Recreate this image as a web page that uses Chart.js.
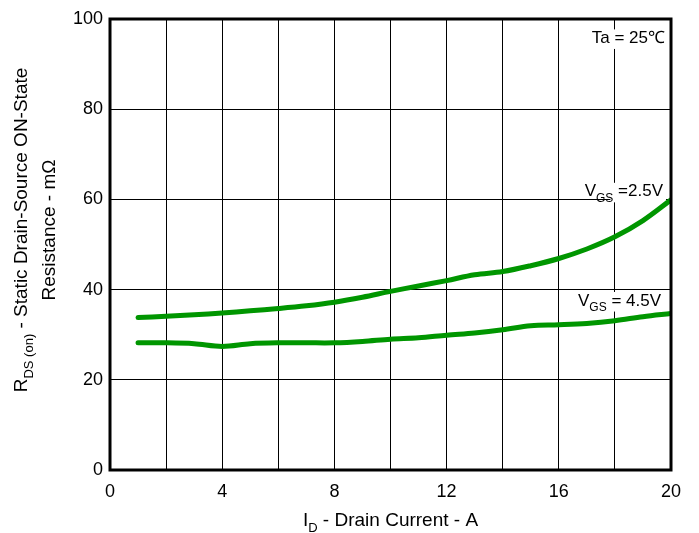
<!DOCTYPE html>
<html>
<head>
<meta charset="utf-8">
<script src="https://cdn.jsdelivr.net/npm/chart.js@4/dist/chart.umd.min.js"></script>
<style>
  html, body { margin: 0; padding: 0; background: #fff; }
  #wrap { width: 699px; height: 533px; position: relative; }
</style>
</head>
<body>
<div id="wrap"><canvas id="rdsChart"></canvas></div>
<script>
/* RDS(on) vs drain current */
const current = [1, 2, 3, 4, 5, 6, 7, 8, 9, 10, 11, 12, 13, 14, 15, 16, 17, 18, 19, 20];
const vgs25 = [33.8, 34.1, 34.4, 34.8, 35.3, 35.8, 36.4, 37.2, 38.3, 39.6, 40.8, 42.0, 43.3, 44.0, 45.3, 46.9, 49.0, 51.7, 55.3, 59.9];
const vgs45 = [28.2, 28.2, 28.0, 27.4, 28.0, 28.2, 28.2, 28.2, 28.5, 29.0, 29.3, 29.9, 30.4, 31.1, 32.0, 32.2, 32.5, 33.1, 34.0, 34.7];
const xTicks = [0, 4, 8, 12, 16, 20];
const yTicks = [0, 20, 40, 60, 80, 100];

const FONT = 'Arial, "Liberation Sans", sans-serif';
const GREEN = '#009600';

/* text made of normal + subscript parts; returns the x extents of each part */
function richText(ctx, parts, x, y, size, align, draw) {
  const subSize = Math.round(size * 0.7);
  let total = 0;
  parts.forEach(p => {
    ctx.font = (p.sub ? subSize : size) + 'px ' + FONT;
    p.w = ctx.measureText(p.t).width;
    total += p.w;
  });
  let cx = align === 'left' ? x : align === 'right' ? x - total : x - total / 2;
  ctx.textBaseline = 'alphabetic';
  ctx.textAlign = 'left';
  parts.forEach(p => {
    p.x = cx;
    if (draw !== false) {
      ctx.font = (p.sub ? subSize : size) + 'px ' + FONT;
      ctx.fillText(p.t, cx, p.sub ? y + size * 0.3 : y);
    }
    cx += p.w;
  });
  return parts;
}

/* white box behind the parts flagged box:true, then the text */
function label(ctx, parts, x, y, size, align) {
  richText(ctx, parts, x, y, size, align, false);
  const boxed = parts.filter(p => p.box);
  if (boxed.length) {
    const x0 = boxed[0].x, x1 = boxed[boxed.length - 1].x + boxed[boxed.length - 1].w;
    ctx.fillStyle = '#fff';
    ctx.fillRect(x0 - 3, y - size * 0.8, x1 - x0 + 6, size * 1.15);
  }
  ctx.fillStyle = '#000';
  richText(ctx, parts, x, y, size, align);
}

const decor = {
  id: 'decor',
  beforeDatasetsDraw(chart) {
    const { ctx, chartArea: a, scales: { x, y } } = chart;
    ctx.save();
    label(ctx, [{ t: 'V' }, { t: 'GS', sub: true }, { t: ' =2.5V', box: true }], x.getPixelForValue(20) - 8, y.getPixelForValue(60) - 3, 17, 'right');
    label(ctx, [{ t: 'V', box: true }, { t: 'GS', sub: true, box: true }, { t: ' = 4.5V', box: true }], x.getPixelForValue(20) - 10, y.getPixelForValue(40) + 16, 17, 'right');
    label(ctx, [{ t: 'Ta = 25℃', box: true }], a.right - 6, a.top + 24, 17, 'right');
    ctx.restore();
  },
  afterDraw(chart) {
    const { ctx, chartArea: a } = chart;
    ctx.save();
    ctx.strokeStyle = '#000';
    ctx.lineWidth = 3;
    ctx.strokeRect(a.left, a.top, a.right - a.left, a.bottom - a.top);

    // y axis title, two lines, rotated
    ctx.fillStyle = '#000';
    ctx.translate(27, 230);
    ctx.rotate(-Math.PI / 2);
    richText(ctx, [{ t: 'R' }, { t: 'DS (on)', sub: true }, { t: ' - Static Drain-Source ON-State' }], 0, 0, 19, 'center');
    richText(ctx, [{ t: 'Resistance - mΩ' }], 0, 28, 19, 'center');
    ctx.restore();

    // x axis title
    ctx.save();
    ctx.fillStyle = '#000';
    richText(ctx, [{ t: 'I' }, { t: 'D', sub: true }, { t: ' - Drain Current - A' }], (a.left + a.right) / 2, 526, 19, 'center');
    ctx.restore();
  }
};

new Chart(document.getElementById('rdsChart'), {
  type: 'line',
  data: {
    labels: current,
    datasets: [
      { label: 'VGS=2.5V', data: current.map((c, i) => ({ x: c, y: vgs25[i] })) },
      { label: 'VGS=4.5V', data: current.map((c, i) => ({ x: c, y: vgs45[i] })) }
    ]
  },
  options: {
    responsive: true,
    maintainAspectRatio: false,
    animation: false,
    layout: { padding: { left: 0, right: 28, top: 19, bottom: 0 } },
    elements: {
      line: { borderColor: GREEN, borderWidth: 5, tension: 0.35, borderCapStyle: 'round', borderJoinStyle: 'round', fill: false },
      point: { radius: 0, hoverRadius: 0 }
    },
    plugins: { legend: { display: false }, tooltip: { enabled: false } },
    scales: {
      x: {
        type: 'linear', min: 0, max: 20,
        afterFit: s => { s.height = 63; },
        afterBuildTicks: s => { s.ticks = [0, 2, 4, 6, 8, 10, 12, 14, 16, 18, 20].map(v => ({ value: v })); },
        ticks: {
          color: '#000', font: { family: FONT, size: 18 }, padding: 11, maxRotation: 0,
          callback: v => xTicks.includes(v) ? v : ''
        },
        grid: { color: '#000', lineWidth: 1, drawTicks: false },
        border: { display: false }
      },
      y: {
        min: 0, max: 100,
        afterFit: s => { s.width = 110; },
        afterBuildTicks: s => { s.ticks = yTicks.map(v => ({ value: v })); },
        ticks: { color: '#000', font: { family: FONT, size: 18 }, padding: 7 },
        grid: { color: '#000', lineWidth: 1, drawTicks: false },
        border: { display: false }
      }
    }
  },
  plugins: [decor]
});
</script>
</body>
</html>
